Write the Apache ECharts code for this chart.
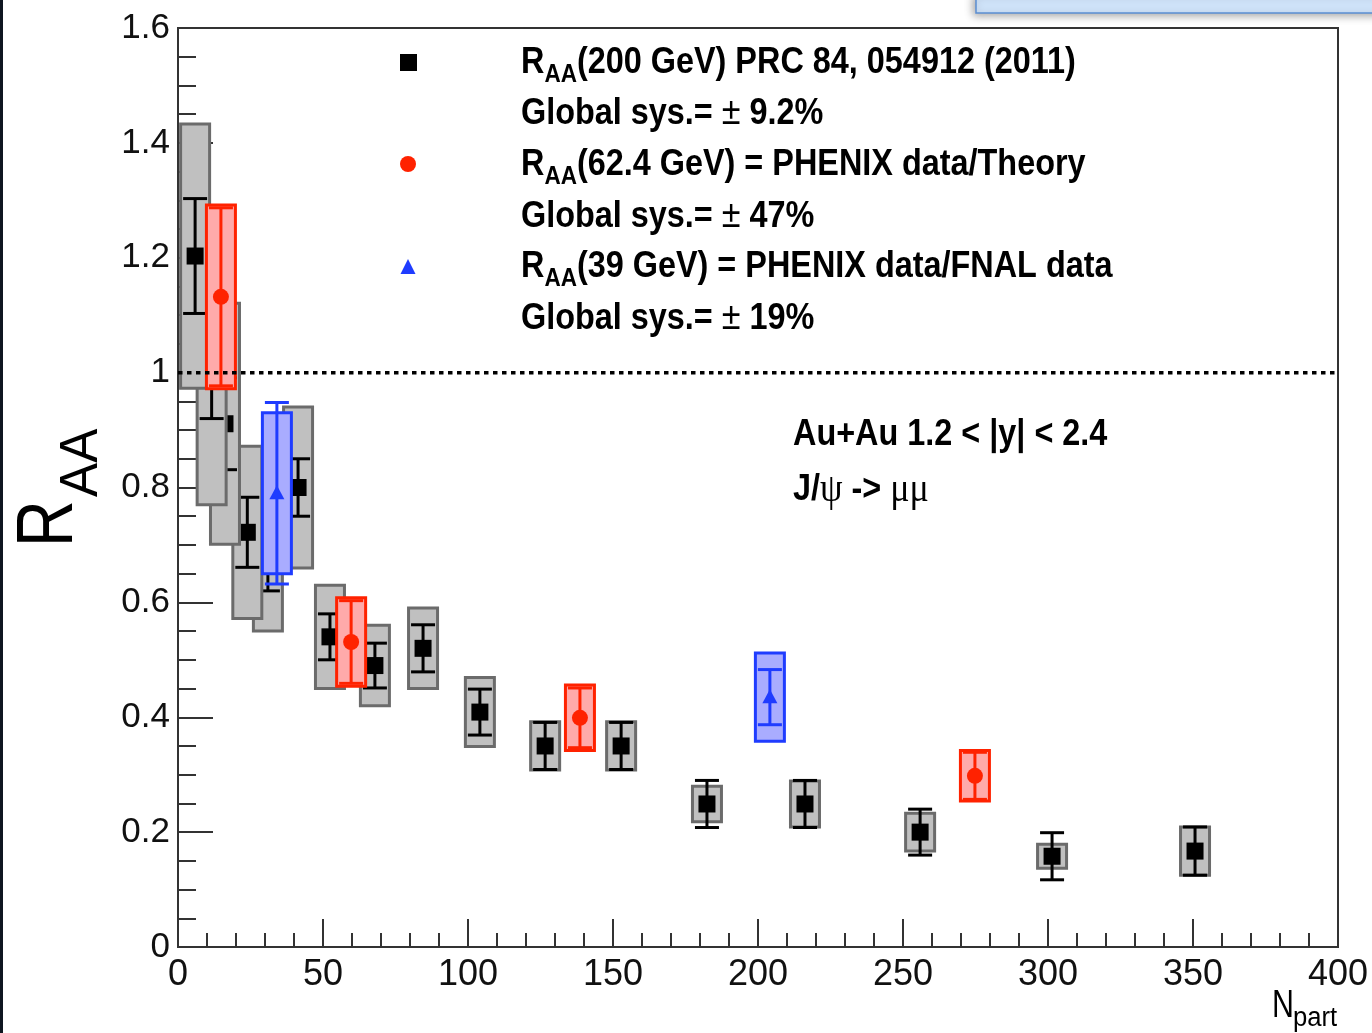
<!DOCTYPE html>
<html>
<head>
<meta charset="utf-8">
<script src="https://cdn.jsdelivr.net/npm/echarts@6/dist/echarts.min.js"></script>
<style>
  html, body { margin: 0; padding: 0; background: #fff; }
  #vis { width: 1372px; height: 1033px; }
</style>
</head>
<body>
<div id="vis"></div>
<script>
// R_AA(200 GeV), drawn from high to low Npart so the peripheral boxes sit on top
const npart200 = [350.7, 301.4, 255.9, 216.2, 182.4, 152.8, 126.6, 104.1, 84.5, 67.9, 52.4, 41.4, 31.0, 23.9, 16.2, 11.6, 5.9];
const raa200   = [0.167, 0.158, 0.200, 0.249, 0.249, 0.350, 0.350, 0.409, 0.520, 0.490, 0.540, 0.800, 0.680, 0.722, 0.911, 1.000, 1.203];
const stat200  = [0.042, 0.041, 0.040, 0.041, 0.041, 0.041, 0.041, 0.040, 0.041, 0.039, 0.040, 0.050, 0.060, 0.061, 0.080, 0.080, 0.100];
const sys200   = [0.042, 0.021, 0.033, 0.040, 0.031, 0.042, 0.042, 0.060, 0.070, 0.070, 0.090, 0.140, 0.130, 0.150, 0.210, 0.230, 0.230];

// R_AA(62.4 GeV)
const npart62 = [274.8, 138.6, 59.7, 14.8];
const raa62   = [0.298, 0.399, 0.531, 1.132];
const stat62  = [0.041, 0.052, 0.072, 0.155];
const sys62   = [0.044, 0.057, 0.077, 0.160];

// R_AA(39 GeV)
const npart39 = [204.1, 34.1];
const raa39   = [0.435, 0.790];
const stat39  = [0.048, 0.158];
const sys39   = [0.077, 0.140];

const xTicks = [0, 50, 100, 150, 200, 250, 300, 350, 400];
const yTicks = [0, 0.2, 0.4, 0.6, 0.8, 1, 1.2, 1.4, 1.6];
const refLine = [[0, 1], [400, 1]];

const BOX_HALF = 5; // Npart half-width of the systematic boxes

const vis = document.getElementById("vis");
const chart = echarts.init(vis, null, { renderer: "canvas" });

function rows(x, y, st, sy) {
  return x.map((v, i) => [v, y[i], st[i], sy[i]]);
}

function makeRender(look) {
  return function (params, api) {
    const x = api.value(0), y = api.value(1), st = api.value(2), sy = api.value(3);
    const c = api.coord([x, y]);
    const bl = api.coord([x - BOX_HALF, y - sy]);
    const tr = api.coord([x + BOX_HALF, y + sy]);
    const et = api.coord([x, y + st]);
    const eb = api.coord([x, y - st]);
    const cap = 12;
    const kids = [
      {
        type: "rect",
        shape: { x: bl[0], y: tr[1], width: tr[0] - bl[0], height: bl[1] - tr[1] },
        style: { fill: look.boxFill, stroke: look.boxStroke, lineWidth: 3 }
      },
      { type: "line", shape: { x1: c[0], y1: et[1], x2: c[0], y2: eb[1] }, style: { stroke: look.err, lineWidth: 3 } },
      { type: "line", shape: { x1: c[0] - cap, y1: et[1], x2: c[0] + cap, y2: et[1] }, style: { stroke: look.err, lineWidth: 3 } },
      { type: "line", shape: { x1: c[0] - cap, y1: eb[1], x2: c[0] + cap, y2: eb[1] }, style: { stroke: look.err, lineWidth: 3 } }
    ];
    if (look.marker === "square") {
      kids.push({ type: "rect", shape: { x: c[0] - 8.5, y: c[1] - 8.5, width: 17, height: 17 }, style: { fill: look.markColor } });
    } else if (look.marker === "circle") {
      kids.push({ type: "circle", shape: { cx: c[0], cy: c[1], r: 8 }, style: { fill: look.markColor } });
    } else {
      kids.push({
        type: "polygon",
        shape: { points: [[c[0], c[1] - 8], [c[0] - 7.5, c[1] + 6], [c[0] + 7.5, c[1] + 6]] },
        style: { fill: look.markColor }
      });
    }
    return { type: "group", children: kids };
  };
}

const FONT = "'Liberation Sans', Arial, Helvetica, sans-serif";
const SERIF = "'Liberation Serif', 'DejaVu Serif', serif";

function legendText(x, y, text, rich) {
  return {
    type: "text",
    x: x, y: y, scaleX: 0.9,
    style: {
      text: text, x: 0, y: 0,
      align: "left", textAlign: "left",
      verticalAlign: "middle", textVerticalAlign: "middle",
      rich: rich
    }
  };
}

const rLeg = {
  r: { fill: "#000", fontSize: 36, fontWeight: "bold", fontFamily: FONT },
  s: { fill: "#000", fontSize: 25, fontWeight: "bold", fontFamily: FONT, padding: [24, 0, 0, 0] },
  pm: { fill: "#000", fontSize: 38, fontWeight: "normal", fontFamily: FONT },
  g: { fill: "#000", fontSize: 40, fontWeight: "normal", fontFamily: SERIF }
};

const graphics = [
  // dark edge on the left of the screenshot
  { type: "rect", shape: { x: 0, y: 0, width: 3, height: 1033 }, style: { fill: "#0e1620" }, z: 10 },
  // light blue box cut off at the top right
  {
    type: "rect", shape: { x: 976, y: -6, width: 410, height: 19 },
    style: { fill: "#d0e4fa", stroke: "#5b8ed2", lineWidth: 1.5, shadowBlur: 8, shadowColor: "rgba(0,0,0,0.35)", shadowOffsetX: -2, shadowOffsetY: 2 },
    z: 10
  },
  // legend symbols
  { type: "rect", shape: { x: 400, y: 54, width: 17, height: 17 }, style: { fill: "#000" } },
  { type: "circle", shape: { cx: 408, cy: 164, r: 8 }, style: { fill: "#ff2200" } },
  { type: "polygon", shape: { points: [[408, 259], [400.5, 274], [415.5, 274]] }, style: { fill: "#1f3cff" } },
  // legend text
  legendText(521, 63, "{r|R}{s|AA}{r|(200 GeV) PRC 84, 054912 (2011)}", rLeg),
  legendText(521, 114, "{r|Global sys.= }{pm|±}{r| 9.2%}", rLeg),
  legendText(521, 165, "{r|R}{s|AA}{r|(62.4 GeV) = PHENIX data/Theory}", rLeg),
  legendText(521, 217, "{r|Global sys.= }{pm|±}{r| 47%}", rLeg),
  legendText(521, 267, "{r|R}{s|AA}{r|(39 GeV) = PHENIX data/FNAL data}", rLeg),
  legendText(521, 319, "{r|Global sys.= }{pm|±}{r| 19%}", rLeg),
  // system annotation
  legendText(793, 435, "{r|Au+Au 1.2 < |y| < 2.4}", rLeg),
  legendText(793, 490, "{r|J/}{g|ψ}{r| -> }{g|μμ}", rLeg),
  // y-axis title
  {
    type: "text", x: 50, y: 547, rotation: Math.PI / 2, scaleX: 0.81,
    style: { text: "R", x: 0, y: 0, fill: "#000", font: "normal 80px " + FONT,
      align: "left", textAlign: "left", verticalAlign: "middle", textVerticalAlign: "middle" }
  },
  {
    type: "text", x: 82, y: 497, rotation: Math.PI / 2, scaleX: 0.95,
    style: { text: "AA", x: 0, y: 0, fill: "#000", font: "normal 54px " + FONT,
      align: "left", textAlign: "left", verticalAlign: "middle", textVerticalAlign: "middle" }
  },
  // x-axis title
  {
    type: "text", x: 1272, y: 1007, scaleX: 0.8,
    style: { text: "N", x: 0, y: 0, fill: "#000", font: "normal 38px " + FONT,
      align: "left", textAlign: "left", verticalAlign: "middle", textVerticalAlign: "middle" }
  },
  {
    type: "text", x: 1293, y: 1019, scaleX: 0.95,
    style: { text: "part", x: 0, y: 0, fill: "#000", font: "normal 27px " + FONT,
      align: "left", textAlign: "left", verticalAlign: "middle", textVerticalAlign: "middle" }
  }
];

const axisCommon = {
  type: "value",
  axisLine: { show: true, lineStyle: { color: "#333", width: 2 } },
  splitLine: { show: false },
  minorSplitLine: { show: false },
  showMinLabel: true,
  showMaxLabel: true
};

const options = {
  animation: false,
  backgroundColor: "#fff",
  grid: {
    left: 178, right: 34, top: 28, bottom: 86,
    show: true, borderColor: "#333", borderWidth: 2, backgroundColor: "transparent",
    containLabel: false, outerBoundsMode: "none"
  },
  xAxis: Object.assign({}, axisCommon, {
    min: xTicks[0], max: xTicks[xTicks.length - 1], interval: xTicks[1] - xTicks[0],
    axisTick: { inside: true, length: 28, lineStyle: { color: "#333", width: 2 } },
    minorTick: { show: true, splitNumber: 5, length: 14, lineStyle: { color: "#333", width: 2 } },
    axisLabel: { fontSize: 36, color: "#111", margin: 10, fontFamily: FONT }
  }),
  yAxis: Object.assign({}, axisCommon, {
    min: yTicks[0], max: yTicks[yTicks.length - 1], interval: 0.2,
    axisTick: { inside: true, length: 35, lineStyle: { color: "#333", width: 2 } },
    minorTick: { show: true, splitNumber: 4, length: 18, lineStyle: { color: "#333", width: 2 } },
    axisLabel: { fontSize: 35, color: "#111", margin: 8, fontFamily: FONT }
  }),
  series: [
    {
      type: "line",
      data: refLine,
      symbol: "none",
      silent: true,
      lineStyle: { color: "#000", width: 3.5, type: [4.5, 4.5] }
    },
    {
      type: "custom",
      name: "200 GeV",
      data: rows(npart200, raa200, stat200, sys200),
      encode: { x: 0, y: 1 },
      renderItem: makeRender({ boxFill: "#c0c0c0", boxStroke: "#6b6b6b", err: "#000", marker: "square", markColor: "#000" })
    },
    {
      type: "custom",
      name: "62.4 GeV",
      data: rows(npart62, raa62, stat62, sys62),
      encode: { x: 0, y: 1 },
      renderItem: makeRender({ boxFill: "#ffaaaa", boxStroke: "#ff2200", err: "#ff2200", marker: "circle", markColor: "#ff2200" })
    },
    {
      type: "custom",
      name: "39 GeV",
      data: rows(npart39, raa39, stat39, sys39),
      encode: { x: 0, y: 1 },
      renderItem: makeRender({ boxFill: "#a9acff", boxStroke: "#1f3cff", err: "#1f3cff", marker: "triangle", markColor: "#1f3cff" })
    }
  ],
  graphic: graphics
};

chart.setOption(options);
</script>
</body>
</html>
